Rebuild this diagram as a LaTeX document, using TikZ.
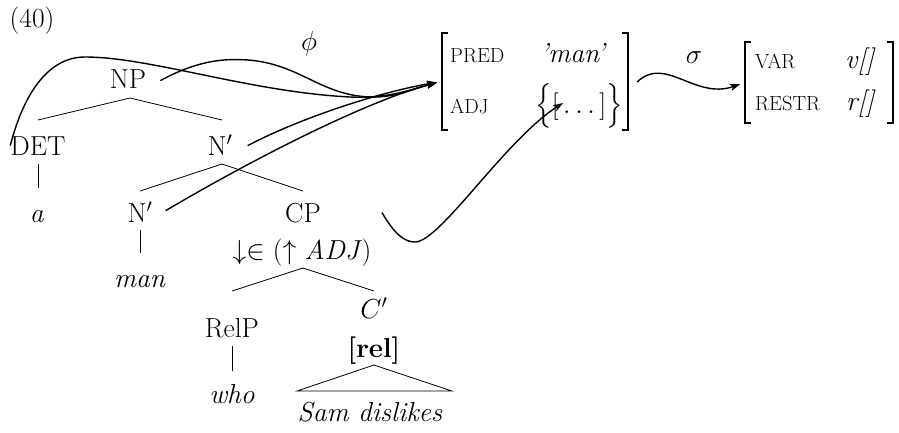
\RequirePackage{fix-cm}
\documentclass[tikz,border=0pt]{standalone}
\usepackage{amsmath}
\usepackage{fontspec}
\usetikzlibrary{arrows.meta,calc}
\newcommand\mainsize{\fontsize{27.5}{33}\selectfont}
\newcommand\attrsize{\fontsize{20.5}{25}\selectfont}
\tikzset{
  lbl/.style={anchor=base, inner sep=0pt, font=\mainsize},
  attr/.style={anchor=base west, inner sep=0pt, font=\attrsize},
  val/.style={anchor=base west, inner sep=0pt, font=\mainsize},
  branch/.style={line width=0.8pt},
  proj/.style={line width=1.4pt, -{Stealth[length=10pt,width=7pt,inset=2.5pt]}},
  tofs/.style={shorten >=5pt},
  avmbox/.style={inner sep=0pt, draw=none},
  avmbracket/.style={line width=1.6pt},
}
\begin{document}
\begin{tikzpicture}[x=1pt,y=-1pt]
\useasboundingbox (0,0) rectangle (899,432);

% example number and projection label
\node[lbl] (ex) at (32,27) {(40)};
\node[lbl] (phi) at (309,50) {$\phi$};

% c-structure tree
\node[lbl] (NP) at (128,88) {NP};
\node[lbl] (DET) at (38,155) {DET};
\node[lbl] (N1) at (220,155) {N$'$};
\node[lbl] (a) at (37,222) {\textit{a}};
\node[lbl] (N2) at (140,222) {N$'$};
\node[lbl] (CP) at (303,222) {CP};
\node[lbl] (ann) at (302,259) {${\downarrow}{\in}$ (${\uparrow}$ \textit{ADJ})};
\node[lbl] (man) at (140,287) {\textit{man}};
\node[lbl] (Cb) at (374,318) {$C'$};
\node[lbl] (RelP) at (232,337) {RelP};
\node[lbl] (rel) at (374,357) {\textbf{[rel]}};
\node[lbl] (who) at (232,403) {\textit{who}};
\node[lbl] (sam) at (370,421) {\textit{Sam dislikes}};

% branches
\coordinate (npb) at ($(NP.base)+(2,10)$);
\draw[branch] (npb) -- ($(DET.base)+(0,-35)$);
\draw[branch] (npb) -- ($(N1.base)+(2,-35)$);
\draw[branch] ($(DET.base)+(0,9)$) -- ($(a.base)+(1,-34)$);
\coordinate (n1b) at ($(N1.base)+(2,9)$);
\draw[branch] (n1b) -- ($(N2.base)+(0,-31)$);
\draw[branch] (n1b) -- ($(CP.base)+(0,-31)$);
\draw[branch] ($(N2.base)+(0,8)$) -- ($(man.base)+(0,-34)$);
\coordinate (cpb) at ($(ann.base)+(1,9)$);
\draw[branch] (cpb) -- ($(RelP.base)+(0,-46)$);
\draw[branch] (cpb) -- ($(Cb.base)+(0,-27)$);
\draw[branch] ($(RelP.base)+(0,9)$) -- ($(who.base)+(0,-32)$);
\draw[branch] ($(rel.base)+(0,8)$) -- ($(sam.base)+(-73,-30)$) -- ($(sam.base)+(82,-30)$) -- cycle;

% f-structure
\node[avmbox, minimum width=186pt, minimum height=97pt] (F1) at (535,81.5) {};
\draw[avmbracket] ([xshift=6pt]F1.north west) -- (F1.north west) -- (F1.south west) -- ([xshift=6pt]F1.south west);
\draw[avmbracket] ([xshift=-6pt]F1.north east) -- (F1.north east) -- (F1.south east) -- ([xshift=-6pt]F1.south east);
\node[attr] (pred) at (450,62) {PRED};
\node[val] (predv) at (540,62) {\textit{'man'}};
\node[attr] (adj) at (450,113) {ADJ};
\node[val] (adjv) at (535,113) {$\Big\{[\,\ldots\,]\Big\}$};
\coordinate (adjin) at (563,103);

% s-structure
\node[lbl] (sigma) at (694,63) {$\sigma$};
\node[avmbox, minimum width=148pt, minimum height=81pt] (F2) at (819,82.5) {};
\draw[avmbracket] ([xshift=6pt]F2.north west) -- (F2.north west) -- (F2.south west) -- ([xshift=6pt]F2.south west);
\draw[avmbracket] ([xshift=-6pt]F2.north east) -- (F2.north east) -- (F2.south east) -- ([xshift=-6pt]F2.south east);
\node[attr] (var) at (755,68) {VAR};
\node[val] (varv) at (845,68) {\textit{v[]}};
\node[attr] (restr) at (755,110) {RESTR};
\node[val] (restrv) at (846,110) {\textit{r[]}};

% phi projections
\draw[proj,tofs] (DET.west) .. controls (22,100) and (45,57) .. (85,57)
  .. controls (150,57) and (250,92) .. (350,97)
  .. controls (390,99) and (415,88) .. (F1.west);
\draw[proj,tofs] ($(NP.east)+(14,2)$) .. controls (195,62) and (220,58) .. (248,60)
  .. controls (300,64) and (320,95) .. (370,97)
  .. controls (395,98) and (415,88) .. (F1.west);
\draw[proj,tofs] ($(N1.east)+(15,1)$) .. controls (300,118) and (380,92) .. (F1.west);
\draw[proj,tofs] ($(N2.east)+(13,-1)$) .. controls (260,155) and (370,100) .. (F1.west);
\draw[proj] ($(CP.east)+(61,0)$) .. controls (395,235) and (405,242) .. (415,242)
  .. controls (440,242) and (505,140) .. (adjin);

% sigma projection
\draw[proj,tofs] ($(F1.east)+(9,0.5)$) .. controls (665,55) and (695,100) .. (F2.west);
\end{tikzpicture}
\end{document}
